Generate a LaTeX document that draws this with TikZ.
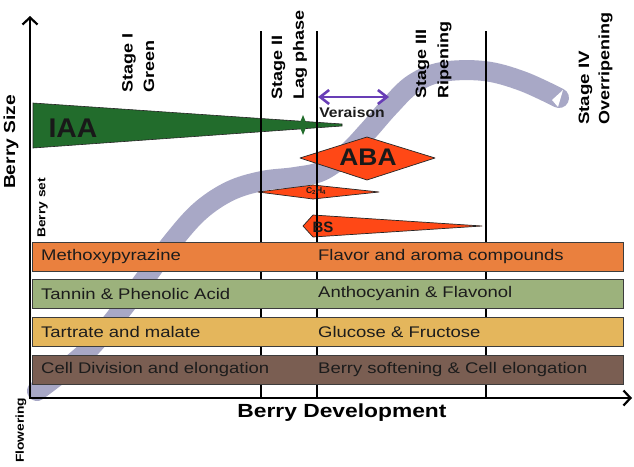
\documentclass[tikz,border=0pt]{standalone}
\usepackage{fontspec}
\setmainfont{Liberation Sans}
\usetikzlibrary{arrows.meta}
\definecolor{curvegray}{RGB}{168,168,198}
\definecolor{iaagreen}{RGB}{34,108,44}
\definecolor{hormred}{RGB}{255,72,22}
\definecolor{barorange}{RGB}{234,128,62}
\definecolor{bargreen}{RGB}{156,178,124}
\definecolor{baryellow}{RGB}{228,182,92}
\definecolor{barbrown}{RGB}{122,94,82}
\definecolor{verpurple}{RGB}{104,62,182}
\definecolor{txt}{RGB}{28,28,28}
\definecolor{bardraw}{RGB}{60,60,60}
\newcommand\wx[2][1.2]{\scalebox{#1}[1]{#2}}
\begin{document}
\begin{tikzpicture}[x=1pt,y=-1pt,
  bar/.style={draw=bardraw,line width=0.9pt},
  bartext/.style={anchor=west,text=txt,font=\fontsize{15.4}{18}\selectfont,inner sep=0pt},
  stagelabel/.style={rotate=90,anchor=west,text=black,font=\bfseries\fontsize{15}{18}\selectfont,inner sep=0pt},
  sidelabel/.style={rotate=90,anchor=west,text=black,font=\bfseries\fontsize{11.5}{14}\selectfont,inner sep=0pt},
  stageline/.style={line width=1.8pt},
  axisline/.style={line width=2.4pt,-{Straight Barb[length=7pt,width=15pt,line width=2.2pt]}},
  hormone/.style={draw=black!85,line width=0.7pt,fill=hormred,line join=round},
  verarrow/.style={verpurple,line width=2.8pt,{Straight Barb[length=9pt,width=14pt,line width=2.6pt]}-{Straight Barb[length=9pt,width=14pt,line width=2.6pt]}},
]
\useasboundingbox[fill=white] (0,0) rectangle (634,466);

% growth curve
\draw[curvegray,line width=20pt,line cap=round,line join=round]
  plot[smooth,tension=0.6] coordinates {(37,391) (62,372) (90,348) (120,312) (147,276) (173,241) (200,211) (230,191) (262,181) (295,177) (322,171) (347,153) (368,131) (390,106) (413,84) (442,72) (484,71) (522,81) (559,98)};
\fill[white] (552,100) -- (563,90) -- (558,107) -- cycle;

% hormones
\fill[iaagreen,draw=black!85,line width=0.6pt] (33,103) -- (342,124) -- (342,126) -- (33,148) -- cycle;
\fill[iaagreen] (303,115) -- (307,125) -- (303,135) -- (299,125) -- cycle;
\draw[hormone] (300,158) -- (367,137) -- (435,158) -- (367,180) -- cycle;
\draw[hormone] (258,192) -- (313,185) -- (379,192) -- (313,199) -- cycle;
\draw[hormone] (303,226) -- (313,215) -- (482,226) -- (313,237) -- cycle;

% stage lines
\coordinate (l1t) at (261,31); \coordinate (l1b) at (261,397);
\coordinate (l2t) at (317,31); \coordinate (l2b) at (317,397);
\coordinate (l3t) at (486,31); \coordinate (l3b) at (486,397);
\draw[stageline] (l1t) -- (l1b);
\draw[stageline] (l2t) -- (l2b);
\draw[stageline] (l3t) -- (l3b);

% bars
\draw[bar,fill=barorange] (32,242) rectangle (623,271);
\draw[bar,fill=bargreen] (32,279) rectangle (623,308);
\draw[bar,fill=baryellow] (32,317) rectangle (623,346);
\draw[bar,fill=barbrown] (32,355) rectangle (623,384);
\node[bartext] (b1l) at (41,256.5) {\wx{Methoxypyrazine}};
\node[bartext] (b1r) at (318,256.5) {\wx{Flavor and aroma compounds}};
\node[bartext] (b2l) at (41,293.5) {\wx{Tannin \& Phenolic Acid}};
\node[bartext] (b2r) at (318,293.5) {\wx{Anthocyanin \& Flavonol}};
\node[bartext] (b3l) at (41,331.5) {\wx{Tartrate and malate}};
\node[bartext] (b3r) at (318,331.5) {\wx{Glucose \& Fructose}};
\node[bartext] (b4l) at (41,369.5) {\wx{Cell Division and elongation}};
\node[bartext] (b4r) at (318,369.5) {\wx{Berry softening \& Cell elongation}};

% axes
\coordinate (ytip) at (30,16);
\coordinate (xtip) at (632,398);
\coordinate (ybase) at (30,399.2);
\coordinate (xbase) at (28.8,398);
\draw[axisline] (ybase) -- (ytip);
\draw[axisline] (xbase) -- (xtip);

% veraison
\coordinate (vl) at (318,97);
\coordinate (vr) at (389,97);
\draw[verarrow] (vl) -- (vr);
\node[text=txt,font=\bfseries\fontsize{14}{16}\selectfont,inner sep=0pt] (ver) at (352,112) {\wx[1.12]{Veraison}};

% hormone labels
\node[text=black!90,font=\bfseries\fontsize{27}{30}\selectfont,inner sep=0pt] (iaa) at (73,128) {\wx[1.05]{IAA}};
\node[text=black!90,font=\bfseries\fontsize{24}{28}\selectfont,inner sep=0pt] (aba) at (368,157) {\wx[1.1]{ABA}};
\node[text=black!90,font=\bfseries\fontsize{15}{18}\selectfont,inner sep=0pt] (bs) at (323,227) {BS};
\node[text=black!90,font=\bfseries\fontsize{8.5}{10}\selectfont,inner sep=0pt] (eth) at (316,191) {C\textsubscript{2}H\textsubscript{4}};

% stage labels
\node[stagelabel] (s1a) at (129,93) {\wx{Stage I}};
\node[stagelabel] (s1b) at (149,93) {\wx{Green}};
\node[stagelabel] (s2a) at (278.5,100) {\wx{Stage II}};
\node[stagelabel] (s2b) at (300,100) {\wx{Lag phase}};
\node[stagelabel] (s3a) at (422.5,99) {\wx{Stage III}};
\node[stagelabel] (s3b) at (444.5,99) {\wx{Ripening}};
\node[stagelabel] (s4a) at (585.5,125) {\wx[1.25]{Stage IV}};
\node[stagelabel] (s4b) at (605.5,125) {\wx{Overripening}};

% axis labels
\node[rotate=90,text=black,font=\bfseries\fontsize{16}{18}\selectfont,inner sep=0pt] (ysize) at (11,142) {\wx{Berry Size}};
\node[sidelabel] (bset) at (42.5,238) {\wx{Berry set}};
\node[sidelabel] (flow) at (21,463) {\wx{Flowering}};
\node[text=black,font=\bfseries\fontsize{19}{22}\selectfont,inner sep=0pt] (xdev) at (342,413) {\wx{Berry Development}};
\end{tikzpicture}
\end{document}
